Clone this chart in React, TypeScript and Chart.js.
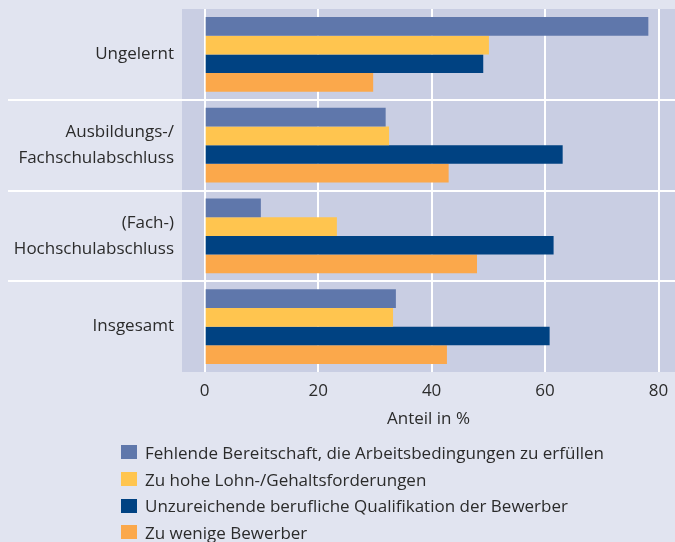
import React, { useEffect, useRef } from "react";
import { Chart, registerables } from "chart.js";

Chart.register(...registerables);

const categories: string[][] = [
  ["Ungelernt"],
  ["Ausbildungs-/", "Fachschulabschluss"],
  ["(Fach-)", "Hochschulabschluss"],
  ["Insgesamt"],
];

const seriesLabels: string[] = [
  "Fehlende Bereitschaft, die Arbeitsbedingungen zu erfüllen",
  "Zu hohe Lohn-/Gehaltsforderungen",
  "Unzureichende berufliche Qualifikation der Bewerber",
  "Zu wenige Bewerber",
];

const bereitschaft: number[] = [78.2, 31.9, 9.9, 33.7];
const lohnforderungen: number[] = [50.1, 32.5, 23.3, 33.2];
const qualifikation: number[] = [49.1, 63.1, 61.5, 60.8];
const zuWenigeBewerber: number[] = [29.7, 43.0, 48.0, 42.7];

const xTickValues: number[] = [0, 20, 40, 60, 80];
const axisTitle = "Anteil in %";

const seriesColors = ["#5f77ab", "#ffc54f", "#004282", "#fba84b"];
const FONT = "'Open Sans', 'Noto Sans', sans-serif";
const TEXT = "#2b2b2b";
const OUTER_BG = "#e1e4f0";
const PLOT_BG = "#c9cee3";

const plotBg = {
  id: "plotBg",
  beforeDraw(chart: any) {
    const { ctx, chartArea } = chart;
    ctx.save();
    ctx.fillStyle = PLOT_BG;
    ctx.fillRect(chartArea.left, chartArea.top, chartArea.right - chartArea.left, chartArea.bottom - chartArea.top);
    ctx.restore();
  },
};

export default function App() {
  const canvasRef = useRef<HTMLCanvasElement | null>(null);

  useEffect(() => {
    const values = [bereitschaft, lohnforderungen, qualifikation, zuWenigeBewerber];
    const chart = new Chart(canvasRef.current as HTMLCanvasElement, {
      type: "bar",
      data: {
        labels: categories,
        datasets: seriesLabels.map((label, i) => ({
          label,
          data: values[i],
          backgroundColor: seriesColors[i],
          borderWidth: 0,
          categoryPercentage: 0.826,
          barPercentage: 1,
        })),
      },
      options: {
        indexAxis: "y",
        animation: false,
        responsive: false,
        maintainAspectRatio: false,
        layout: { autoPadding: false, padding: { top: 9, right: 0, left: 0, bottom: 112 } },
        plugins: {
          legend: { display: false },
          tooltip: { enabled: false },
        },
        scales: {
          x: {
            type: "linear",
            min: -4,
            max: 82.9,
            afterBuildTicks: (scale: any) => {
              scale.ticks = xTickValues.map((v) => ({ value: v }));
            },
            afterFit: (scale: any) => {
              scale.height = 58;
              scale.paddingRight = 0;
              scale.paddingLeft = 0;
            },
            grid: {
              color: "#ffffff",
              lineWidth: 2,
              drawTicks: false,
            },
            border: { display: false },
            ticks: {
              color: TEXT,
              padding: 9,
              font: { family: FONT, size: 17 },
            },
            title: {
              display: true,
              text: axisTitle,
              color: TEXT,
              font: { family: FONT, size: 17 },
              padding: { top: 0, bottom: 1 },
            },
          },
          y: {
            type: "category",
            offset: true,
            afterFit: (scale: any) => {
              scale.width = 182;
              scale.paddingTop = 0;
              scale.paddingBottom = 0;
            },
            grid: {
              offset: true,
              lineWidth: 2,
              drawTicks: true,
              tickLength: 174,
              color: (ctx: any) =>
                ctx.type !== "tick" || ctx.index === 0 ? "rgba(0,0,0,0)" : "#ffffff",
            },
            border: { display: false },
            ticks: {
              color: TEXT,
              padding: -166,
              font: { family: FONT, size: 17, lineHeight: 1.55 },
            },
          },
        },
      },
      plugins: [plotBg],
    });
    return () => chart.destroy();
  }, []);

  return (
    <div
      style={{
        position: "fixed",
        left: 0,
        top: 0,
        width: 675,
        height: 542,
        background: OUTER_BG,
        overflow: "hidden",
      }}
    >
      <canvas ref={canvasRef} width={675} height={542} style={{ display: "block" }} />
      <div
        style={{
          position: "absolute",
          left: 121,
          top: 439,
          fontFamily: FONT,
          fontSize: 17,
          color: TEXT,
        }}
      >
        {seriesLabels.map((label, i) => (
          <div
            key={label}
            style={{ display: "flex", alignItems: "center", height: 26.7, whiteSpace: "nowrap" }}
          >
            <span
              style={{
                display: "inline-block",
                width: 16,
                height: 14,
                background: seriesColors[i],
                marginRight: 8,
              }}
            />
            <span>{label}</span>
          </div>
        ))}
      </div>
    </div>
  );
}
